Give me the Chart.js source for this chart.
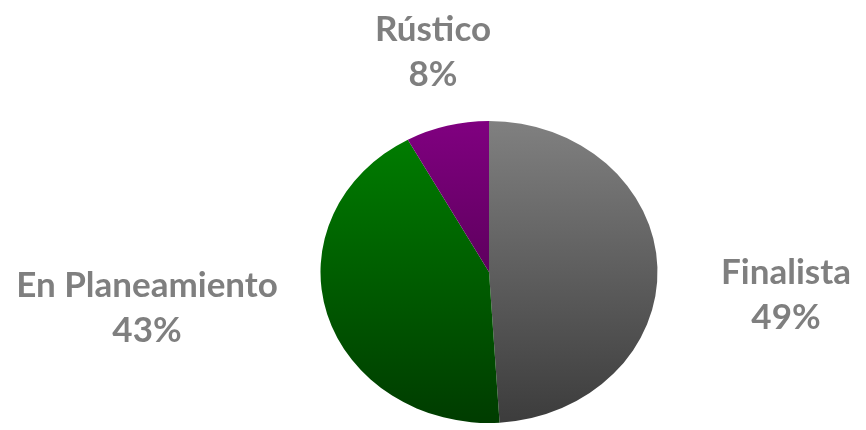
<!DOCTYPE html>
<html><head><meta charset="utf-8">
<script src="https://cdn.jsdelivr.net/npm/chart.js@4/dist/chart.umd.min.js"></script>
<style>html,body{margin:0;padding:0;background:#fff}#wrap{width:866px;height:430px}</style>
</head><body><div id="wrap"><canvas id="c" width="866" height="430"></canvas></div>
<script>
const categories = ["Finalista", "En Planeamiento", "Rústico"];
const values = [49, 43, 8];
const valueLabels = ["49%", "43%", "8%"];
const topColors = ["#808080", "#008000", "#800080"];
const bottomColors = ["#3c3c3c", "#003c00", "#3c003c"];

const X_SCALE = 168.5 / 151;
// label offsets from pie centre (per slice), in px
const labelOffsets = [[297, 23], [-342, 36], [-56, -220]];

const ellipse = {
  id: 'ellipse',
  beforeDatasetsDraw(chart) {
    const a = chart.getDatasetMeta(0).data[0];
    const ctx = chart.ctx;
    ctx.save();
    ctx.translate(a.x, a.y);
    ctx.scale(X_SCALE, 1);
    ctx.translate(-a.x, -a.y);
  },
  afterDatasetsDraw(chart) { chart.ctx.restore(); }
};

const outLabels = {
  id: 'outLabels',
  afterDraw(chart) {
    const ctx = chart.ctx;
    const meta = chart.getDatasetMeta(0);
    ctx.save();
    ctx.fillStyle = '#7f7f7f';
    ctx.textAlign = 'center';
    ctx.textBaseline = 'middle';
    ctx.font = 'bold 35px Lato';
    meta.data.forEach((arc, i) => {
      const x = arc.x + labelOffsets[i][0];
      const y = arc.y + labelOffsets[i][1];
      ctx.fillText(categories[i], x, y - 22);
      ctx.fillText(valueLabels[i], x, y + 23);
    });
    ctx.restore();
  }
};

new Chart(document.getElementById('c'), {
  type: 'pie',
  data: {
    labels: categories,
    datasets: [{
      data: values,
      borderWidth: 0,
      backgroundColor(ctx) {
        const ca = ctx.chart.chartArea;
        if (!ca) return topColors[ctx.dataIndex];
        const g = ctx.chart.ctx.createLinearGradient(0, ca.top, 0, ca.bottom);
        g.addColorStop(0, topColors[ctx.dataIndex]);
        g.addColorStop(1, bottomColors[ctx.dataIndex]);
        return g;
      }
    }]
  },
  options: {
    responsive: false,
    animation: false,
    layout: { padding: { left: 338, right: 226, top: 121, bottom: 7 } },
    plugins: { legend: { display: false }, tooltip: { enabled: false } }
  },
  plugins: [ellipse, outLabels]
});
</script></body></html>
